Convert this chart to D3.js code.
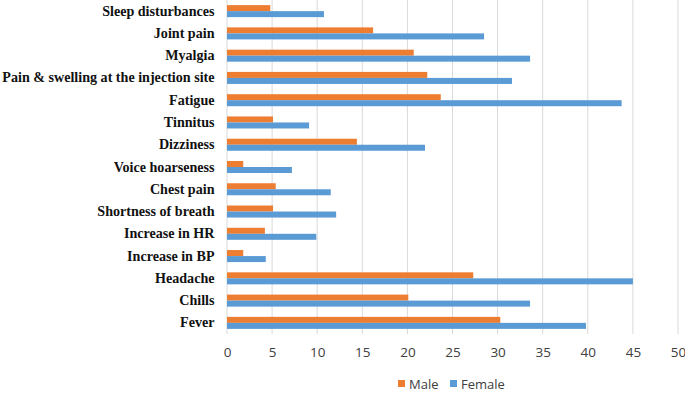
<!DOCTYPE html>
<html>
<head>
<meta charset="utf-8">
<script src="https://cdn.jsdelivr.net/npm/d3@7"></script>
<style>
  body { margin: 0; background: #fff; }
  .cat text { font-family: "Liberation Serif", "Times New Roman", serif; font-weight: bold; font-size: 14.1px; fill: #111; }
  .xaxis text { font-family: "Open Sans", "Liberation Sans", sans-serif; font-size: 13.5px; fill: #404040; }
  .legend text { font-family: "Open Sans", "Liberation Sans", sans-serif; font-size: 13px; fill: #404040; }
</style>
</head>
<body>
<div id="chart"></div>
<script>
// symptom categories, top to bottom
const categories = ["Sleep disturbances", "Joint pain", "Myalgia", "Pain & swelling at the injection site",
    "Fatigue", "Tinnitus", "Dizziness", "Voice hoarseness", "Chest pain", "Shortness of breath",
    "Increase in HR", "Increase in BP", "Headache", "Chills", "Fever"];

const male   = [4.8, 16.2, 20.7, 22.2, 23.7, 5.1, 14.4, 1.8, 5.4, 5.1, 4.2, 1.8, 27.3, 20.1, 30.3];
const female = [10.75, 28.5, 33.6, 31.6, 43.75, 9.1, 21.95, 7.2, 11.5, 12.1, 9.9, 4.3, 45.0, 33.6, 39.8];

const seriesNames = ["Male", "Female"];
const seriesColors = ["#ED7D31", "#5B9BD5"];
const xTicks = [0, 5, 10, 15, 20, 25, 30, 35, 40, 45, 50];

const width = 685, height = 393;
const margin = { top: 0, right: 7, bottom: 59, left: 227 };
const w = width - margin.left - margin.right;
const h = height - margin.top - margin.bottom;

const svg = d3.select("#chart").append("svg")
    .attr("width", width)
    .attr("height", height);

const g = svg.append("g")
    .attr("transform", `translate(${margin.left}, ${margin.top})`);

const x = d3.scaleLinear().domain([0, 50]).range([0, w]);
const y = d3.scaleBand().domain(categories).range([0, h]).paddingInner(0.46).paddingOuter(0.23);
const ySub = d3.scaleBand().domain(seriesNames).range([0, y.bandwidth()]);

// gridlines
g.append("g").selectAll("line")
    .data(xTicks)
    .enter().append("line")
    .attr("x1", d => x(d)).attr("x2", d => x(d))
    .attr("y1", 0).attr("y2", h)
    .attr("stroke", "#d9d9d9")
    .attr("stroke-width", 1);

// bars
const rows = categories.map((c, i) => ({ cat: c, values: [male[i], female[i]] }));
const grp = g.selectAll(".row")
    .data(rows)
    .enter().append("g")
    .attr("class", "row")
    .attr("transform", d => `translate(0, ${y(d.cat)})`);

grp.selectAll("rect")
    .data(d => d.values.map((v, j) => ({ name: seriesNames[j], value: v, color: seriesColors[j] })))
    .enter().append("rect")
    .attr("x", 0)
    .attr("y", d => ySub(d.name))
    .attr("width", d => x(d.value))
    .attr("height", ySub.bandwidth())
    .attr("fill", d => d.color);

// category labels
const yAxis = d3.axisLeft(y).tickSize(0).tickPadding(12.5);
g.append("g")
    .attr("class", "cat")
    .call(yAxis)
    .call(a => a.select(".domain").remove());

// x axis labels
const xAxis = d3.axisBottom(x).tickValues(xTicks).tickSize(0).tickPadding(13);
g.append("g")
    .attr("class", "xaxis")
    .attr("transform", `translate(0, ${h})`)
    .call(xAxis)
    .call(a => a.select(".domain").remove());

// legend
const legend = svg.append("g")
    .attr("class", "legend")
    .attr("transform", `translate(398, 384)`);

const items = legend.selectAll("g")
    .data(seriesNames)
    .enter().append("g")
    .attr("transform", (d, i) => `translate(${i * 52}, 0)`);

items.append("rect")
    .attr("x", 0).attr("y", -4)
    .attr("width", 7).attr("height", 7)
    .attr("fill", (d, i) => seriesColors[i]);

items.append("text")
    .attr("x", 11)
    .attr("y", 0)
    .attr("dy", "0.35em")
    .text(d => d);
</script>
</body>
</html>
